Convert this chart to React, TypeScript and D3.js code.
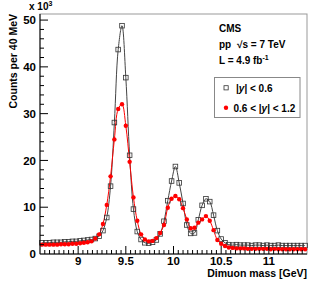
import React from 'react';
import * as d3 from 'd3';

// bin centres, 40 MeV bins from 8.6 to 11.4 GeV
const binWidth = 0.04;
const massBins = d3.range(70).map(i => +(8.62 + i * binWidth).toFixed(2));

// |y| < 0.6  (units of 10^3)
const centralCounts = [
  2.4, 2.4, 2.4, 2.5, 2.5, 2.5, 2.6, 2.6, 2.7, 2.7,
  2.8, 2.9, 3.0, 3.1, 3.3, 3.8, 5.0, 7.8, 14.5, 28.1,
  43.7, 48.8, 37.7, 21.1, 9.6, 4.8, 3.1, 2.4, 2.3, 2.5,
  3.0, 4.3, 7.0, 11.4, 15.6, 18.7, 15.2, 10.8, 6.2, 4.4,
  4.5, 7.3, 10.4, 11.8, 11.2, 8.3, 5.0, 3.2, 2.4, 2.0,
  1.9, 2.0, 1.9, 1.9, 1.9, 1.8, 1.9, 1.9, 1.8, 1.9,
  1.8, 1.8, 1.9, 1.8, 1.8, 1.8, 1.8, 1.8, 1.8, 1.8,
];

// 0.6 < |y| < 1.2
const forwardCounts = [
  2.0, 2.0, 2.0, 2.0, 2.0, 2.1, 2.1, 2.1, 2.2, 2.2,
  2.3, 2.4, 2.5, 2.7, 3.3, 4.2, 6.4, 10.5, 16.6, 24.5,
  31.0, 32.0, 27.4, 19.7, 12.1, 7.1, 4.2, 3.1, 2.7, 2.8,
  3.4, 4.5, 6.2, 9.9, 11.8, 12.4, 11.7, 9.8, 7.4, 5.5,
  5.6, 6.7, 7.4, 8.1, 7.1, 5.1, 3.0, 2.2, 1.7, 1.4,
  1.3, 1.2, 1.2, 1.2, 1.1, 1.1, 1.1, 1.1, 1.1, 1.1,
  1.0, 1.1, 1.0, 1.0, 1.0, 1.0, 1.0, 1.0, 1.0, 1.0,
];

const xTickLabels = [9, 9.5, 10, 10.5, 11];
const yTickLabels = [0, 10, 20, 30, 40, 50];

const W = 316, H = 283;
const frame = { left: 40, right: 307, top: 14, bottom: 254 };
const font = '"Liberation Sans", Arial, Helvetica, sans-serif';

export default function App() {
  const x = d3.scaleLinear().domain([8.6, 11.4]).range([frame.left, frame.right]);
  const y = d3.scaleLinear().domain([0, 51.3]).range([frame.bottom, frame.top]);

  const line = d3.line<number>()
    .x((_, i) => x(massBins[i]))
    .y(d => y(d))
    .curve(d3.curveCatmullRom.alpha(0.5));

  const xMinor = d3.range(8.65, 11.4, 0.05).map(v => +v.toFixed(2));
  const yMinor = d3.range(2, 51, 2);

  return (
    <svg width={W} height={H} style={{ position: 'absolute', left: 0, top: 0, background: '#fff' }}
      fontFamily={font} fontWeight="bold">
      <rect x={frame.left} y={frame.top} width={frame.right - frame.left} height={frame.bottom - frame.top}
        fill="none" stroke="#999" strokeWidth={1} />

      {/* curves */}
      <path d={line(centralCounts) || ''} fill="none" stroke="#444" strokeWidth={1} />
      <path d={line(forwardCounts) || ''} fill="none" stroke="#f00" strokeWidth={1} />

      {/* markers */}
      {centralCounts.map((v, i) => (
        <rect key={'c' + i} x={x(massBins[i]) - 2.3} y={y(v) - 2.3} width={4.6} height={4.6}
          fill="none" stroke="#333" strokeWidth={0.8} />
      ))}
      {forwardCounts.map((v, i) => (
        <circle key={'f' + i} cx={x(massBins[i])} cy={y(v)} r={2.2} fill="#f00" />
      ))}

      {/* axes */}
      <line x1={frame.left} x2={frame.right} y1={frame.bottom} y2={frame.bottom} stroke="#000" />
      <line x1={frame.left} x2={frame.left} y1={frame.top} y2={frame.bottom} stroke="#000" />
      {xMinor.map(v => {
        const major = xTickLabels.some(t => Math.abs(t - v) < 1e-6);
        return <line key={'xm' + v} x1={x(v)} x2={x(v)} y1={frame.bottom} y2={frame.bottom - (major ? 8 : 4)} stroke="#000" />;
      })}
      {yMinor.map(v => {
        const major = v % 10 === 0;
        return <line key={'ym' + v} x1={frame.left} x2={frame.left + (major ? 8 : 4)} y1={y(v)} y2={y(v)} stroke="#000" />;
      })}
      {xTickLabels.map(t => (
        <text key={'xl' + t} x={x(t)} y={264.5} textAnchor="middle" fontSize={11.5}>{t}</text>
      ))}
      {yTickLabels.map(t => (
        <text key={'yl' + t} x={36} y={y(t) + 4.2} textAnchor="end" fontSize={11.5}>{t}</text>
      ))}
      <text x={29} y={10} fontSize={10}>x 10<tspan dy={-4} fontSize={7}>3</tspan></text>

      <text x={frame.right} y={277} textAnchor="end" fontSize={10.5}>Dimuon mass [GeV]</text>
      <text transform={`translate(17,${frame.top}) rotate(-90)`} textAnchor="end" fontSize={10.5}>Counts per 40 MeV</text>

      {/* labels */}
      <text x={219} y={32} fontSize={10}>CMS</text>
      <text x={219} y={48} fontSize={10}>pp  <tspan dx={3}>√s = 7 TeV</tspan></text>
      <text x={219} y={64} fontSize={10}>L = 4.9 fb<tspan dy={-4} fontSize={7}>-1</tspan></text>

      {/* legend */}
      <rect x={214.5} y={77.5} width={85.5} height={40} fill="#fff" stroke="#888" strokeWidth={1} />
      <rect x={224} y={85.7} width={4.2} height={4.2} fill="none" stroke="#333" strokeWidth={0.8} />
      <text x={236} y={92} fontSize={10}>|<tspan fontStyle="italic">y</tspan>| &lt; 0.6</text>
      <circle cx={226} cy={107.7} r={2.2} fill="#f00" />
      <text x={233.5} y={112} fontSize={10}>0.6 &lt; |<tspan fontStyle="italic">y</tspan>| &lt; 1.2</text>
    </svg>
  );
}
